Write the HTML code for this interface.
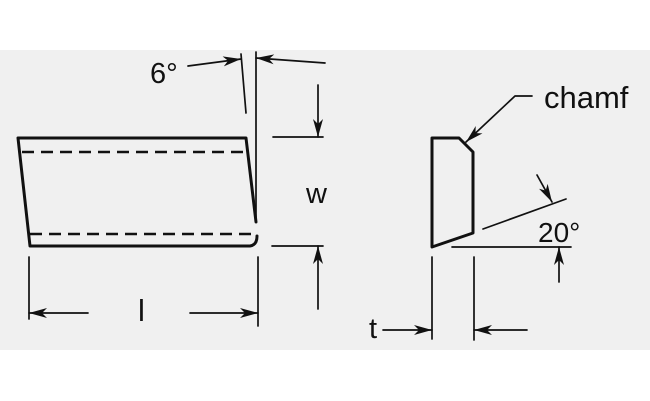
<!DOCTYPE html>
<html><head><meta charset="utf-8"><style>
html,body{margin:0;padding:0;background:#fff;}
svg{display:block;}
text{font-family:"Liberation Sans",sans-serif;fill:#111;}
</style></head><body>
<svg width="650" height="401" viewBox="0 0 650 401" xmlns="http://www.w3.org/2000/svg">
<defs>
<marker id="a" viewBox="0 0 18 10" refX="18" refY="5" markerWidth="18" markerHeight="10" markerUnits="userSpaceOnUse" orient="auto">
<path d="M0,0 L18,5 L0,10 L5,5 Z" fill="#111"/>
</marker>
</defs>
<rect x="0" y="50" width="650" height="300" fill="#f0f0f0"/>
<g fill="none" stroke="#111" stroke-linecap="round" stroke-linejoin="round">
<path d="M18,138 L246,138 L256,222 M18,138 L30,246 L250,246 Q257,245 257,236" stroke-width="3"/>
<line x1="22" y1="152" x2="246" y2="152" stroke-width="2.5" stroke-dasharray="12,7" stroke-linecap="butt"/>
<line x1="30" y1="234" x2="255" y2="234" stroke-width="2.5" stroke-dasharray="12,7" stroke-linecap="butt"/>
<g stroke-width="1.7">
<line x1="256" y1="52" x2="256" y2="220"/>
<line x1="241" y1="54" x2="246" y2="113"/>
<line x1="188" y1="66" x2="241" y2="59" marker-end="url(#a)"/>
<line x1="325" y1="63" x2="256" y2="58" marker-end="url(#a)"/>
<line x1="318" y1="85" x2="318" y2="137" marker-end="url(#a)"/>
<line x1="273" y1="137" x2="323" y2="137"/>
<line x1="272" y1="246" x2="323" y2="246"/>
<line x1="318" y1="309" x2="318" y2="246" marker-end="url(#a)"/>
<line x1="29" y1="257" x2="29" y2="319"/>
<line x1="258" y1="257" x2="258" y2="326"/>
<line x1="88" y1="313" x2="29" y2="313" marker-end="url(#a)"/>
<line x1="190" y1="313" x2="258" y2="313" marker-end="url(#a)"/>
</g>
<path d="M432,138 L459,138 L473,152 L473,233 L432,247 Z" stroke-width="3"/>
<g stroke-width="1.7">
<polyline points="532,96 515,96 466,142" marker-end="url(#a)"/>
<line x1="483" y1="229" x2="566" y2="199"/>
<line x1="537" y1="175" x2="552" y2="202" marker-end="url(#a)"/>
<line x1="452" y1="247" x2="571" y2="247"/>
<line x1="559" y1="282" x2="559" y2="247" marker-end="url(#a)"/>
<line x1="432" y1="257" x2="432" y2="339"/>
<line x1="474" y1="257" x2="474" y2="340"/>
<line x1="383" y1="330" x2="432" y2="330" marker-end="url(#a)"/>
<line x1="527" y1="330" x2="474" y2="330" marker-end="url(#a)"/>
</g>
</g>
<text x="150" y="83" font-size="29">6°</text>
<text x="306" y="203" font-size="29">w</text>
<text x="138" y="321" font-size="31">l</text>
<text x="544" y="108" font-size="31">chamf</text>
<text x="538" y="242" font-size="28">20°</text>
<text x="369" y="338" font-size="29">t</text>
</svg>
</body></html>
